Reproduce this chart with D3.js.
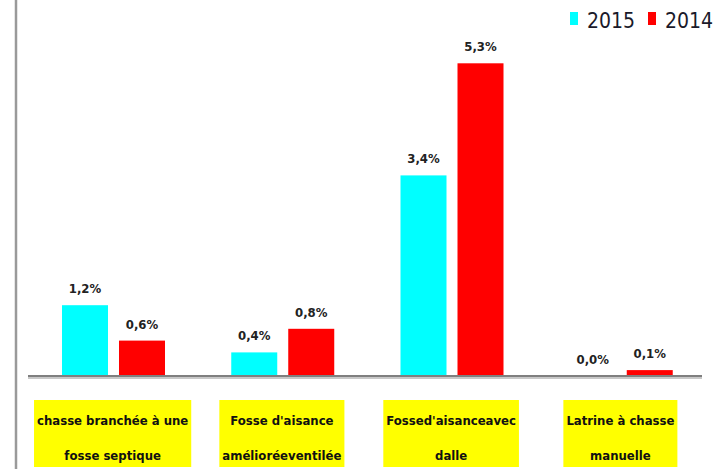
<!DOCTYPE html>
<html>
<head>
<meta charset="utf-8">
<script src="https://cdn.jsdelivr.net/npm/d3@7"></script>
<style>
  body { margin: 0; background: #fff; }
  text { font-family: "Liberation Sans Narrow", "DejaVu Sans Condensed", "Liberation Sans", sans-serif; }
</style>
</head>
<body>
<div id="chart"></div>
<script>
// categories, each label split on two lines
const categories = ["chasse branchée à une fosse septique", "Fosse d'aisance amélioréeventilée", "Fossed'aisanceavec dalle", "Latrine à chasse manuelle"];
const labelLines = [
    ["chasse branchée à une", "fosse septique"],
    ["Fosse d'aisance", "amélioréeventilée"],
    ["Fossed'aisanceavec", "dalle"],
    ["Latrine à chasse", "manuelle"]
];
const series = ["2015", "2014"];
const values2015 = [1.2, 0.4, 3.4, 0.0];
const values2014 = [0.6, 0.8, 5.3, 0.1];
const colors = ["#00ffff", "#ff0000"];

function main(){
    let width = 713;
    let height = 469;
    let baseY = 376;

    let svg = d3.select("#chart").append("svg")
        .attr("width", width)
        .attr("height", height);

    let data = categories.map(function(c, i){
        return {cat: c, vals: [values2015[i], values2014[i]]};
    });

    let x = d3.scaleBand().domain(categories).range([29, 706]);
    let xs = d3.scaleBand().domain(series).range([33, 136]).paddingInner(0.193);
    let y = d3.scaleLinear().domain([0, 6]).range([baseY, 22]);
    let fmt = function(v){ return d3.format(".1f")(v).replace(".", ",") + "%"; };

    // left border
    svg.append("line")
        .attr("x1", 16).attr("x2", 16)
        .attr("y1", 0).attr("y2", height)
        .style("stroke", "#9a9a9a")
        .style("stroke-width", 2.5);

    let groups = svg.selectAll("g.cat")
        .data(data)
        .enter()
        .append("g")
        .attr("class", "cat")
        .attr("transform", function(d){
            return "translate(" + x(d.cat) + ",0)";
        });

    groups.selectAll("rect")
        .data(function(d){
            return d.vals.map(function(v, j){ return {s: series[j], v: v, j: j}; });
        })
        .enter()
        .append("rect")
        .attr("x", function(d){ return xs(d.s); })
        .attr("width", xs.bandwidth())
        .attr("y", function(d){ return y(d.v); })
        .attr("height", function(d){ return baseY - y(d.v); })
        .style("fill", function(d){ return colors[d.j]; });

    groups.selectAll("text.val")
        .data(function(d){
            return d.vals.map(function(v, j){ return {s: series[j], v: v}; });
        })
        .enter()
        .append("text")
        .attr("class", "val")
        .attr("x", function(d){ return xs(d.s) + xs.bandwidth() / 2; })
        .attr("y", function(d){ return y(d.v) - 12; })
        .attr("text-anchor", "middle")
        .attr("font-size", 13)
        .attr("font-weight", "bold")
        .style("fill", "#222")
        .text(function(d){ return fmt(d.v); });

    // axis line
    svg.append("line")
        .attr("x1", 28).attr("x2", 702)
        .attr("y1", baseY + 2).attr("y2", baseY + 2)
        .style("stroke", "#c8c8c8")
        .style("stroke-width", 2);
    svg.append("line")
        .attr("x1", 28).attr("x2", 702)
        .attr("y1", baseY).attr("y2", baseY)
        .style("stroke", "#7f7f7f")
        .style("stroke-width", 2);

    // category labels on yellow boxes
    let labels = groups.append("g")
        .attr("transform", function(d){
            return "translate(" + (x.bandwidth() / 2 - 1) + ",0)";
        });
    labels.append("rect")
        .attr("y", 400)
        .attr("height", 67)
        .style("fill", "#ffff00");
    labels.each(function(d, i){
        let g = d3.select(this);
        g.selectAll("text")
            .data(labelLines[i])
            .enter()
            .append("text")
            .attr("x", 0)
            .attr("y", function(t, k){ return 425 + k * 35; })
            .attr("text-anchor", "middle")
            .attr("font-size", 13)
            .attr("font-weight", "bold")
            .style("fill", "#111")
            .text(function(t){ return t; });
        let w = 0;
        g.selectAll("text").each(function(){
            w = Math.max(w, this.getComputedTextLength());
        });
        g.select("rect").attr("x", -w / 2 - 3).attr("width", w + 6);
    });

    // legend
    let legend = svg.append("g")
        .attr("transform", "translate(570,0)");
    let items = legend.selectAll("g")
        .data(series)
        .enter()
        .append("g")
        .attr("transform", function(d, i){
            return "translate(" + (i * 78) + ",0)";
        });
    items.append("rect")
        .attr("x", 0).attr("y", 12)
        .attr("width", 8).attr("height", 13)
        .style("fill", function(d, i){ return colors[i]; });
    items.append("text")
        .attr("x", 17).attr("y", 28)
        .attr("font-size", 21)
        .style("fill", "#1a1a2a")
        .text(function(d){ return d; });
}

main();
</script>
</body>
</html>
